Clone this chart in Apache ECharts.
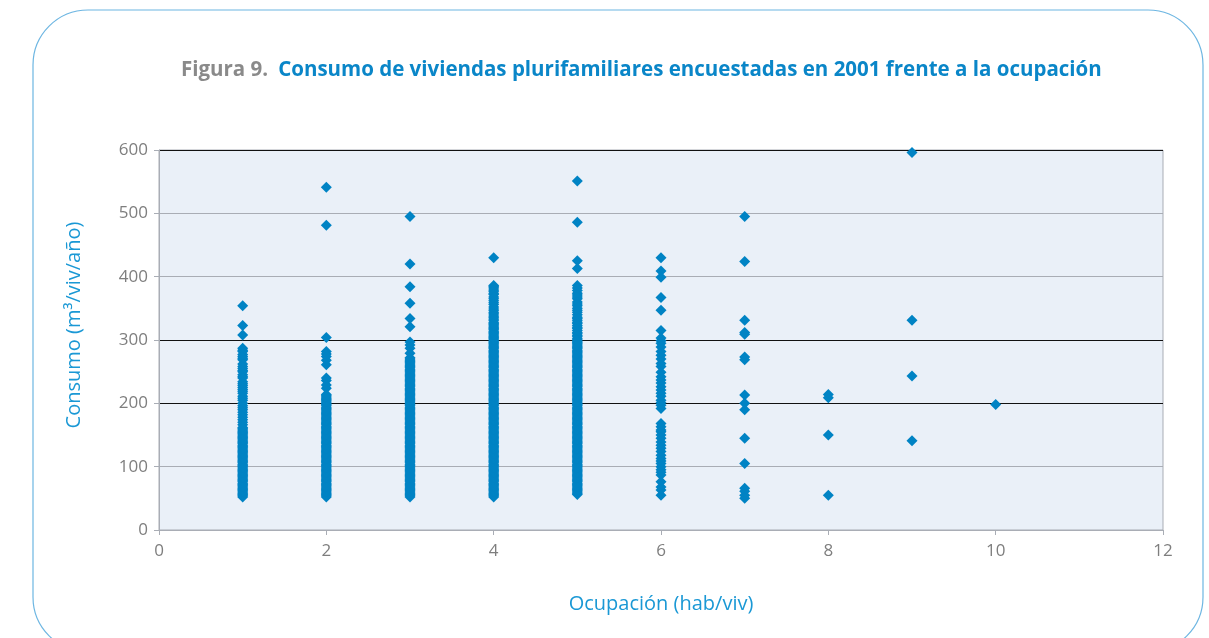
<!DOCTYPE html>
<html lang="es">
<head>
    <meta charset="UTF-8">
    <title>Figura 9</title>
    <script type="text/javascript" src="https://cdn.jsdelivr.net/npm/echarts@6/dist/echarts.min.js"></script>
    <style>
        html, body { margin: 0; padding: 0; background: #fff; }
    </style>
</head>
<body>
<div id="main" style="width: 1209px;height:638px"></div>
<script type="text/javascript">
    // consumo (m3/viv/año) leido por columna de ocupacion (hab/viv)
    var occ1 = [354,323,308,287,284,282,277,274,271,269,262,258,255,252,250,245,242,240,234,231,228,225,222,219,216,211,208,205,200,196,193,
        190,186,182,178,174,170,166,
        52,54,56,58,60,62,64,66,68,70,72,74,76,78,80,82,84,86,88,90,92,94,96,98,100,
        102,104,106,108,110,112,114,116,118,120,122,124,126,128,130,132,134,136,138,140,142,144,146,148,150,
        152,154,156,158,160,162];
    var occ2 = [541,481,304,282,278,274,268,261,240,236,229,224,
        52,54,56,58,60,62,64,66,68,70,72,74,76,78,80,82,84,86,88,90,92,94,96,98,100,
        102,104,106,108,110,112,114,116,118,120,122,124,126,128,130,132,134,136,138,140,142,144,146,148,150,
        152,154,156,158,160,162,164,166,168,170,172,174,176,178,180,182,184,186,188,190,192,194,196,198,200,
        202,204,206,208,210,212,214];
    var occ3 = [495,420,384,358,334,321,297,292,287,279,
        52,54,56,58,60,62,64,66,68,70,72,74,76,78,80,82,84,86,88,90,92,94,96,98,100,
        102,104,106,108,110,112,114,116,118,120,122,124,126,128,130,132,134,136,138,140,142,144,146,148,150,
        152,154,156,158,160,162,164,166,168,170,172,174,176,178,180,182,184,186,188,190,192,194,196,198,200,
        202,204,206,208,210,212,214,216,218,220,222,224,226,228,230,232,234,236,238,240,242,244,246,248,250,
        252,254,256,258,260,262,264,266,268,270,272];
    var occ4 = [430,386,384,382,379,377,374,372,368,365,362,359,356,352,349,346,343,341,338,336,333,331,328,
        52,54,56,58,60,62,64,66,68,70,72,74,76,78,80,82,84,86,88,90,92,94,96,98,100,
        102,104,106,108,110,112,114,116,118,120,122,124,126,128,130,132,134,136,138,140,142,144,146,148,150,
        152,154,156,158,160,162,164,166,168,170,172,174,176,178,180,182,184,186,188,190,192,194,196,198,200,
        202,204,206,208,210,212,214,216,218,220,222,224,226,228,230,232,234,236,238,240,242,244,246,248,250,
        252,254,256,258,260,262,264,266,268,270,272,274,276,278,280,282,284,286,288,290,292,294,296,298,300,
        302,304,306,308,310,312,314,316,318,320,322,324,326];
    var occ5 = [551,486,425,413,386,382,378,374,371,368,365,360,357,354,350,347,344,340,336,334,331,328,326,323,320,318,315,312,310,307,305,302,300,298,
        56,58,60,62,64,66,68,70,72,74,76,78,80,82,84,86,88,90,92,94,96,98,100,
        102,104,106,108,110,112,114,116,118,120,122,124,126,128,130,132,134,136,138,140,142,144,146,148,150,
        152,154,156,158,160,162,164,166,168,170,172,174,176,178,180,182,184,186,188,190,192,194,196,198,200,
        202,204,206,208,210,212,214,216,218,220,222,224,226,228,230,232,234,236,238,240,242,244,246,248,250,
        252,254,256,258,260,262,264,266,268,270,272,274,276,278,280,282,284,286,288,290,292,294,296];
    var occ6 = [430,409,399,367,347,315,303,299,295,289,282,276,270,263,258,249,242,237,232,226,221,216,211,205,201,197,192,
        168,163,158,155,150,145,139,134,129,124,118,113,109,105,100,95,91,87,76,68,63,55];
    var occ7 = [495,424,331,312,309,273,269,213,200,190,145,105,66,61,55,50];
    var occ8 = [214,209,150,55];
    var occ9 = [596,331,243,141];
    var occ10 = [198];

    var columns = [[1, occ1], [2, occ2], [3, occ3], [4, occ4], [5, occ5], [6, occ6], [7, occ7], [8, occ8], [9, occ9], [10, occ10]];

    var xTicks = [0, 2, 4, 6, 8, 10, 12];
    var yTicks = [0, 100, 200, 300, 400, 500, 600];

    var points = [];
    for (var i = 0; i < columns.length; i++) {
        for (var j = 0; j < columns[i][1].length; j++) {
            points.push([columns[i][0], columns[i][1][j]]);
        }
    }

    var chartDom = document.getElementById('main');
    var myChart = echarts.init(chartDom);
    var option;

    var blue = '#0083C4';
    var grey = '#A9ADB5';

    option = {
        backgroundColor: '#fff',
        animation: false,
        title: {
            text: '{a|Figura 9.}  {b|Consumo de viviendas plurifamiliares encuestadas en 2001 frente a la ocupación}',
            left: 176,
            top: 55,
            textStyle: {
                rich: {
                    a: { fontFamily: 'Open Sans', fontWeight: 'bold', fontSize: 20.5, color: '#8A8A8A' },
                    b: { fontFamily: 'Open Sans', fontWeight: 'bold', fontSize: 20.5, color: '#0A86C8' }
                }
            }
        },
        graphic: [{
            type: 'rect',
            z: -1,
            shape: { x: 33, y: 10, width: 1170, height: 642, r: 55 },
            style: { fill: 'none', stroke: '#6DB6E2', lineWidth: 1.2 }
        }],
        grid: {
            left: 159,
            right: 46,
            top: 150,
            bottom: 108,
            show: true,
            backgroundColor: '#EAF0F8',
            borderColor: grey,
            borderWidth: 1
        },
        xAxis: {
            type: 'value',
            min: xTicks[0],
            max: xTicks[xTicks.length - 1],
            interval: 2,
            name: 'Ocupación (hab/viv)',
            nameLocation: 'middle',
            nameGap: 64,
            nameTextStyle: { fontFamily: 'Open Sans', fontSize: 20, color: '#1A98D5' },
            axisLine: { show: true, lineStyle: { color: grey } },
            axisTick: { show: true, length: 5, lineStyle: { color: grey } },
            axisLabel: { fontFamily: 'Open Sans', fontSize: 17, color: '#7E7E7E', margin: 13 },
            splitLine: { show: false }
        },
        yAxis: {
            type: 'value',
            min: yTicks[0],
            max: yTicks[yTicks.length - 1],
            interval: 100,
            name: 'Consumo (m³/viv/año)',
            nameLocation: 'middle',
            nameGap: 75,
            nameTextStyle: { fontFamily: 'Open Sans', fontSize: 20, color: '#1A98D5', padding: [0, 0, 0, 30] },
            axisLine: { show: true, lineStyle: { color: grey } },
            axisTick: { show: true, length: 5, lineStyle: { color: grey } },
            axisLabel: { fontFamily: 'Open Sans', fontSize: 17, color: '#7E7E7E', margin: 11 },
            splitLine: {
                show: true,
                lineStyle: { color: [grey, grey, '#111', '#111', grey, grey, '#111'], width: 1 }
            }
        },
        series: [{
            type: 'scatter',
            symbol: 'diamond',
            symbolSize: 11,
            itemStyle: { color: blue, opacity: 1 },
            data: points
        }]
    };

    option && myChart.setOption(option);
</script>
</body>
</html>
